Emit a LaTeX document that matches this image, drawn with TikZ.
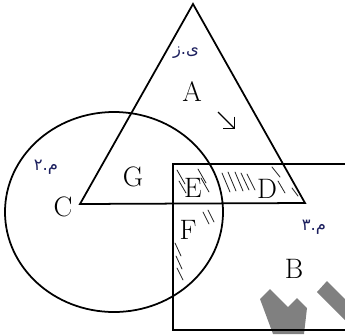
\documentclass[tikz,border=0pt]{standalone}
\usepackage{fontspec}
\usepackage{tikz}
\usetikzlibrary{arrows.meta}
\newfontfamily\arabicfont[Script=Arabic]{DejaVu Sans}
\TeXXeTstate=1
\definecolor{inkblue}{HTML}{1C1F5E}
\definecolor{markgray}{HTML}{808080}

\begin{document}
\begin{tikzpicture}[
    x=0.03cm, y=-0.03cm,
    edge/.style={line width=1.5pt, black},
    lbl/.style={font=\fontsize{24}{27}\selectfont, inner sep=0pt},
    note/.style={font=\arabicfont\fontsize{14}{16}\selectfont, text=inkblue, inner sep=0pt},
    hatch/.style={line width=0.7pt, black!85, line cap=round},
    pen/.style={line width=1.2pt, black, -{Straight Barb[length=2.5mm, width=5mm]}}
]
\useasboundingbox (0,0) rectangle (345,334);
\clip (0,0) rectangle (345,334);

% watermark marks
\fill[markgray] (260,299) -- (270,289) -- (288,307) -- (297,298) -- (307,308)
                -- (304,334) -- (273,334) -- cycle;
\fill[markgray] (317,292) -- (327,281) -- (346,300) -- (346,321) -- cycle;

% sets
\draw[edge] (114,212) ellipse [x radius=109, y radius=100];
\draw[edge] (193,4) -- (80,204) -- (305,203) -- cycle;
\draw[edge] (360,164) -- (173,164) -- (173,330) -- (360,330);

% hatching
\foreach \xa/\ya/\xb/\yb in {177/170/185/184, 179/181/186/193, 198/169/206/183,
                             201/178/209/192, 222/173/230/192, 228/172/236/191,
                             235/172/243/191, 241/173/249/190, 247/174/255/190,
                             272/167/280/177, 278/181/285/193, 292/188/298/196,
                             203/212/209/224, 208/210/214/222,
                             175/243/181/256, 176/256/182/269, 177/268/183/280}
    \draw[hatch] (\xa,\ya) -- (\xb,\yb);

% labels
\node[lbl] (a) at (192,92)  {A};
\node[lbl] (b) at (294,269) {B};
\node[lbl] (c) at (63,207)  {C};
\node[lbl] (d) at (267,189) {D};
\node[lbl] (e) at (193,188) {E};
\node[lbl] (f) at (188,230) {F};
\node[lbl] (g) at (133,177) {G};

% handwritten notes
\node[note] (na) at (186,53)  {\beginR ی.ز\endR};
\node[note] (nc) at (46,167)  {\beginR م.۲\endR};
\node[note] (nb) at (314,227) {\beginR م.۳\endR};

\coordinate (tail) at (218,112);
\coordinate (tip)  at (235,129);
\draw[pen] (tail) -- (tip);
\end{tikzpicture}
\end{document}
